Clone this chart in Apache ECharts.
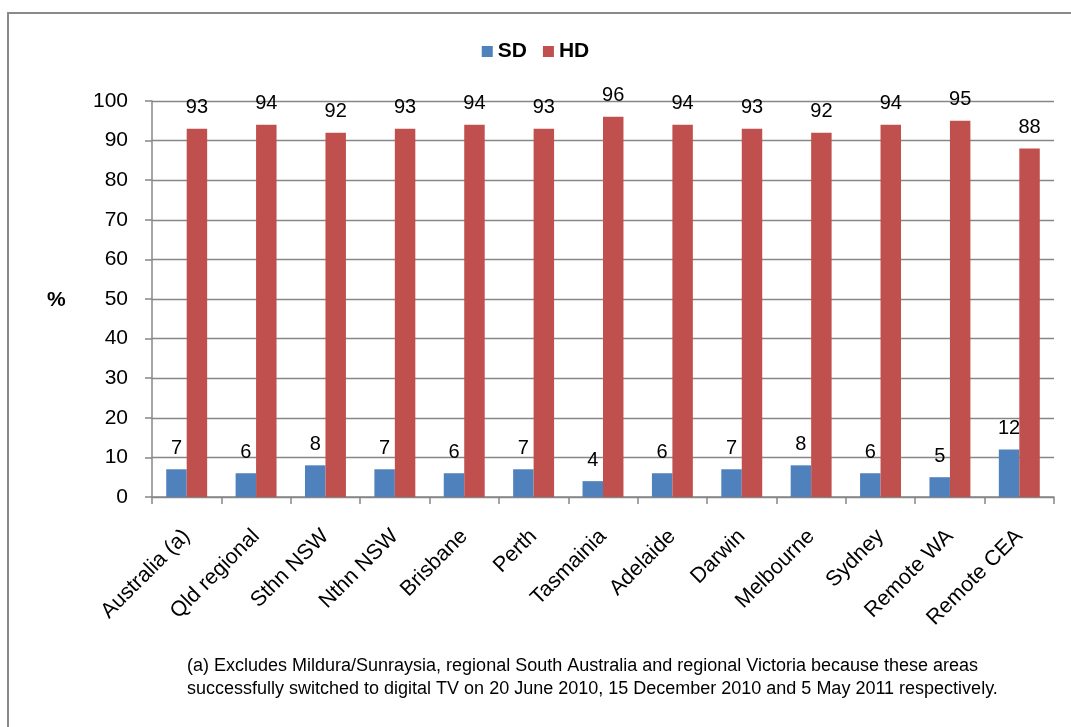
<!DOCTYPE html>
<html>
<head>
<meta charset="utf-8">
<script src="https://cdn.jsdelivr.net/npm/echarts@6/dist/echarts.min.js"></script>
<style>
  html, body { margin: 0; padding: 0; background: #fff; }
  #chart { width: 1071px; height: 727px; }
</style>
</head>
<body>
<div id="chart"></div>
<script>
// Share of SD and HD viewing by licence area (%)
const categories = ['Australia (a)', 'Qld regional', 'Sthn NSW', 'Nthn NSW', 'Brisbane', 'Perth',
  'Tasmainia', 'Adelaide', 'Darwin', 'Melbourne', 'Sydney', 'Remote WA', 'Remote CEA'];
const sdValues = [7, 6, 8, 7, 6, 7, 4, 6, 7, 8, 6, 5, 12];
const hdValues = [93, 94, 92, 93, 94, 93, 96, 94, 93, 92, 94, 95, 88];
const yTicks = { min: 0, max: 100, interval: 10 };
const footnote = [
  '(a) Excludes Mildura/Sunraysia, regional South Australia and regional Victoria because these areas',
  'successfully switched to digital TV on 20 June 2010, 15 December 2010 and 5 May 2011 respectively.'
];

const FONT = '"Liberation Sans", Arial, sans-serif';
const GRAY = '#878787';

const chart = echarts.init(document.getElementById('chart'), null, { renderer: 'canvas' });

const labelStyle = {
  show: true,
  position: 'top',
  distance: 11,
  color: '#000',
  fontFamily: FONT,
  fontSize: 20
};

chart.setOption({
  backgroundColor: '#fff',
  animation: false,
  textStyle: { fontFamily: FONT },
  legend: {
    top: 36,
    left: 'center',
    itemWidth: 11,
    itemHeight: 11,
    itemGap: 16,
    icon: 'rect',
    textStyle: { fontFamily: FONT, fontSize: 21, fontWeight: 'bold', color: '#000' },
    data: ['SD', 'HD']
  },
  grid: { left: 152, right: 17, top: 101, bottom: 230, containLabel: false },
  xAxis: {
    type: 'category',
    data: categories,
    boundaryGap: true,
    axisLine: { lineStyle: { color: GRAY, width: 1.5 } },
    axisTick: { show: true, length: 7, interval: 0, lineStyle: { color: GRAY, width: 1.5 } },
    axisLabel: {
      interval: 0,
      rotate: 45,
      margin: 36,
      color: '#000',
      fontFamily: FONT,
      fontSize: 21.5
    },
    splitLine: { show: false }
  },
  yAxis: {
    type: 'value',
    min: yTicks.min,
    max: yTicks.max,
    interval: yTicks.interval,
    axisLine: { show: true, lineStyle: { color: GRAY, width: 1.5 } },
    axisTick: { show: true, length: 7, lineStyle: { color: GRAY, width: 1.5 } },
    axisLabel: { margin: 24, color: '#000', fontFamily: FONT, fontSize: 21 },
    splitLine: { show: true, lineStyle: { color: GRAY, width: 1.3 } }
  },
  series: [
    {
      name: 'SD',
      type: 'bar',
      data: sdValues,
      barGap: '0%',
      barCategoryGap: '41%',
      itemStyle: { color: '#4F81BD' },
      label: labelStyle
    },
    {
      name: 'HD',
      type: 'bar',
      data: hdValues,
      barGap: '0%',
      barCategoryGap: '41%',
      itemStyle: { color: '#C0504D' },
      label: labelStyle
    }
  ],
  graphic: [
    {
      type: 'rect',
      silent: true,
      shape: { x: 8, y: 13, width: 1200, height: 900 },
      style: { fill: 'none', stroke: '#8a8a8a', lineWidth: 2 }
    },
    {
      type: 'text',
      left: 47,
      top: 290,
      style: { text: '%', font: 'bold 21px ' + FONT, fill: '#000' }
    },
    {
      type: 'text',
      left: 187,
      top: 655,
      style: { text: footnote.join('\n'), font: '18px ' + FONT, lineHeight: 23, fill: '#000' }
    }
  ]
});
</script>
</body>
</html>
